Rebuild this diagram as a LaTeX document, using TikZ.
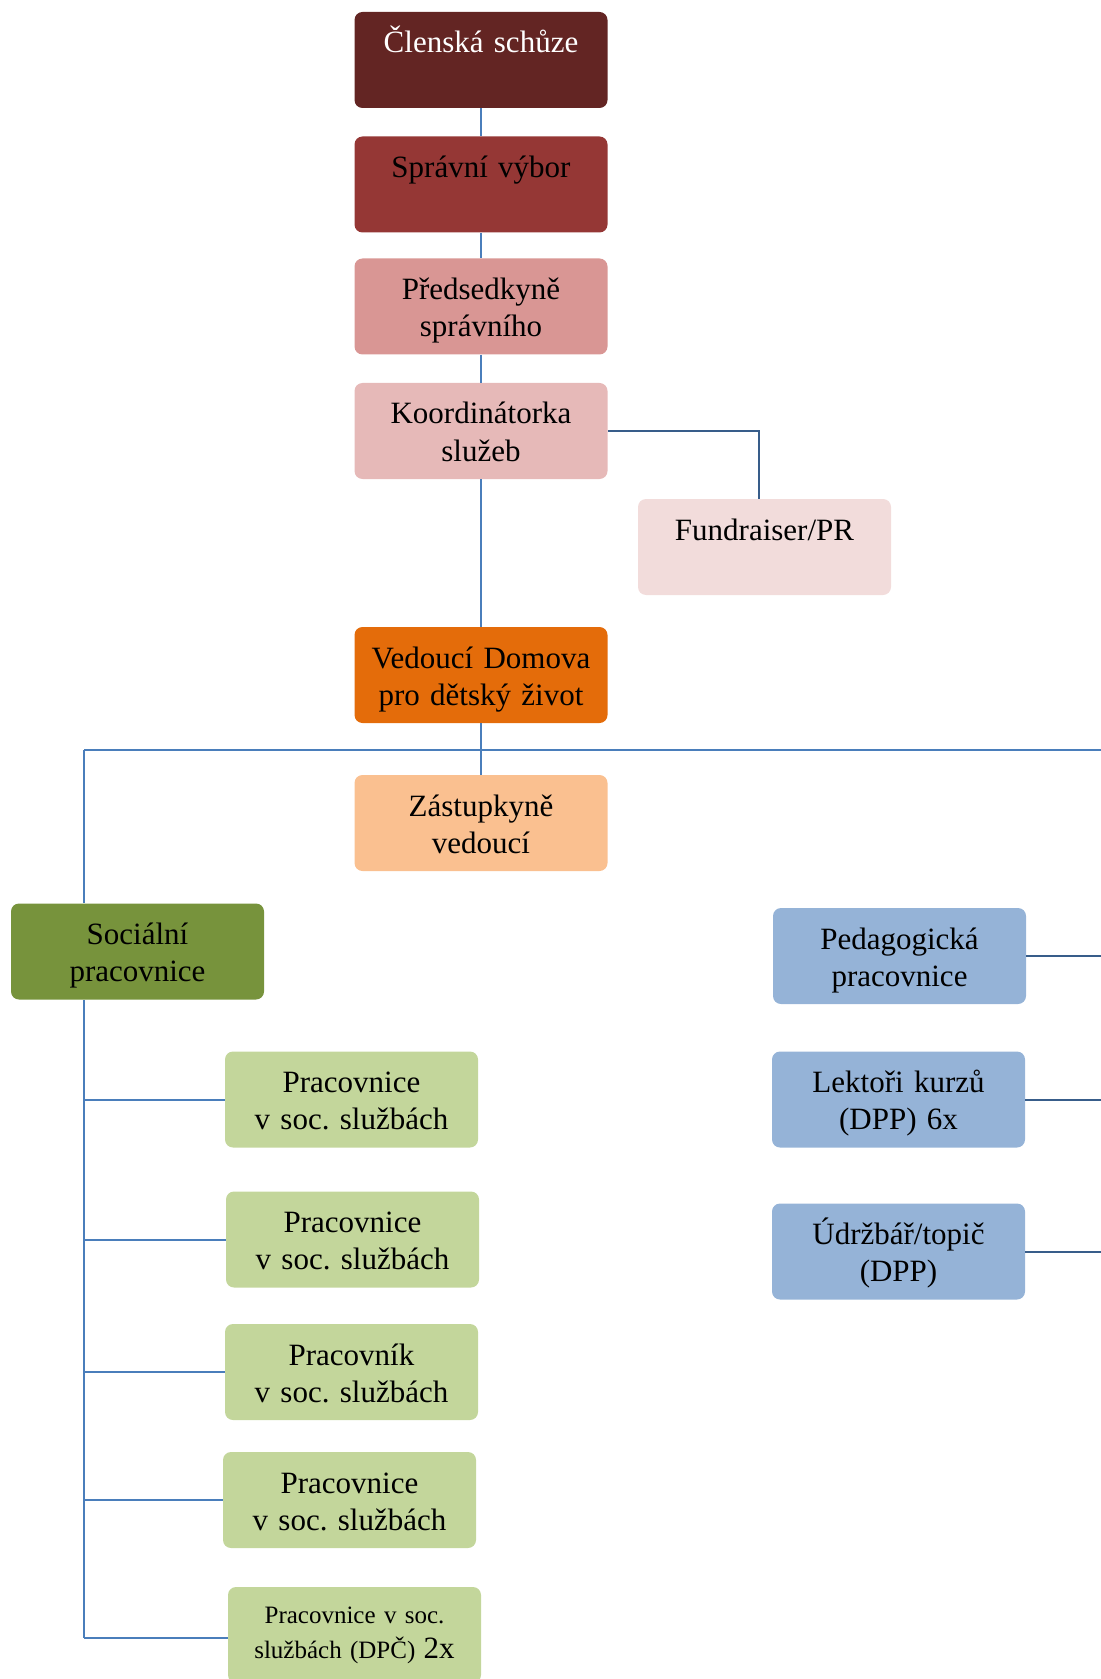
\documentclass[tikz,border=0pt]{standalone}
\usepackage{fontspec}
\setmainfont{Liberation Serif}
\frenchspacing
\definecolor{clencolor}{HTML}{632523}
\definecolor{spravcolor}{HTML}{953735}
\definecolor{predscolor}{HTML}{D99694}
\definecolor{koordcolor}{HTML}{E6B9B8}
\definecolor{fundcolor}{HTML}{F2DCDB}
\definecolor{vedcolor}{HTML}{E46C0A}
\definecolor{zastcolor}{HTML}{FAC090}
\definecolor{soccolor}{HTML}{77933C}
\definecolor{pracolor}{HTML}{C3D69B}
\definecolor{pedcolor}{HTML}{95B3D7}
\definecolor{linecolor}{HTML}{4A7EBB}
\definecolor{darkline}{HTML}{385D8A}
\begin{document}
\begin{tikzpicture}[x=0.5pt,y=-0.5pt,
    orgbox/.style={rectangle,rounded corners=4pt,inner sep=0pt,
      text width=126.5pt,align=center,text height=20.5pt,text depth=27.5pt,
      font=\fontsize{15.5}{18.5}\selectfont},
    conn/.style={draw=linecolor,line width=1pt},
    darkconn/.style={draw=darkline,line width=1pt}]
  \useasboundingbox (0,0) rectangle (1101,1679);
  \node[orgbox,fill=clencolor,text=white] (clen) at (481,60) {Členská schůze};
  \node[orgbox,fill=spravcolor] (sprav) at (481,184.5) {Správní výbor};
  \node[orgbox,fill=predscolor] (preds) at (481,306.5) {Předsedkyně\\správního};
  \node[orgbox,fill=koordcolor] (koord) at (481,431) {Koordinátorka\\služeb};
  \node[orgbox,fill=fundcolor] (fund) at (764.5,547) {Fundraiser/PR};
  \node[orgbox,fill=vedcolor] (ved) at (481,675) {Vedoucí Domova\\pro dětský život};
  \node[orgbox,fill=zastcolor] (zast) at (481,823) {Zástupkyně\\vedoucí};
  \node[orgbox,fill=soccolor] (soc) at (137.5,951.5) {Sociální\\pracovnice};
  \node[orgbox,fill=pedcolor] (ped) at (899.5,956) {Pedagogická\\pracovnice};
  \node[orgbox,fill=pedcolor] (lekt) at (898.5,1099.5) {Lektoři kurzů\\(DPP) 6x};
  \node[orgbox,fill=pedcolor] (udrz) at (898.5,1251.5) {Údržbář/topič\\(DPP)};
  \node[orgbox,fill=pracolor] (prac1) at (351.5,1099.5) {Pracovnice\\v soc. službách};
  \node[orgbox,fill=pracolor] (prac2) at (352.5,1239.5) {Pracovnice\\v soc. službách};
  \node[orgbox,fill=pracolor] (prac3) at (351.5,1372) {Pracovník\\v soc. službách};
  \node[orgbox,fill=pracolor] (prac4) at (349.5,1500) {Pracovnice\\v soc. službách};
  \node[orgbox,fill=pracolor,text height=18pt,text depth=30pt,
    font=\fontsize{12.5}{17.5}\selectfont] (prac5) at (354.5,1635)
    {Pracovnice v soc.\\službách (DPČ) {\fontsize{15.5}{18.5}\selectfont 2x}};
  \coordinate (split) at (84,750);
  \coordinate (rightend) at (1101,750);
  \coordinate (spineend) at (84,1638);
  \coordinate (edge) at (1101,0);
  \draw[conn] (clen) -- (sprav);
  \draw[conn] (sprav) -- (preds);
  \draw[conn] (preds) -- (koord);
  \draw[conn] (koord) -- (ved);
  \draw[conn] (ved) -- (zast);
  \draw[darkconn] (koord.east) -| ([xshift=-3pt]fund.north);
  \draw[conn] (split) -- (rightend);
  \draw[conn] (split) -- (soc.north -| split);
  \draw[conn] (soc.south -| split) -- (spineend);
  \foreach \n in {prac1,prac2,prac3,prac4}
    \draw[conn] (\n.west -| split) -- (\n.west);
  \draw[conn] (spineend) -- (spineend -| prac5.west);
  \foreach \n in {ped,lekt,udrz}
    \draw[darkconn] (\n.east) -- (\n.east -| edge);
\end{tikzpicture}
\end{document}
